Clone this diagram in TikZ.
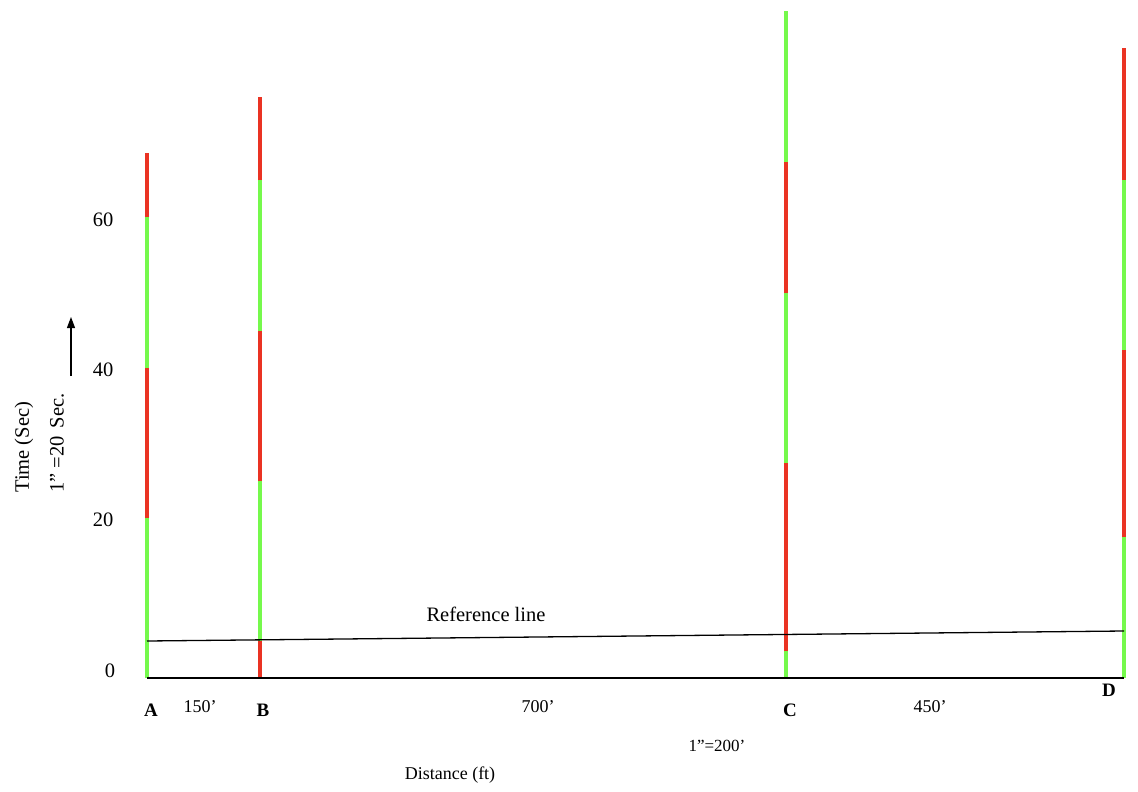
\documentclass[tikz,border=0pt]{standalone}
\usepackage{fontspec}
\setmainfont{Liberation Serif}
\usetikzlibrary{
    arrows.meta,
    %positioning,
}
\definecolor{sigred}{RGB}{234,51,35}
\definecolor{siggreen}{RGB}{117,249,76}

\begin{document}
\begin{tikzpicture}[
        x=1pt, y=-1pt,
        redphase/.style={draw=sigred, line width=4pt},
        greenphase/.style={draw=siggreen, line width=4pt},
        axisline/.style={draw=black, line width=1.3pt},
        lbl/.style={font=\fontsize{18}{21}\selectfont, inner sep=0pt},
        biglbl/.style={font=\fontsize{20.5}{24}\selectfont, inner sep=0pt},
        stop/.style={lbl, font=\fontsize{19}{22}\selectfont\bfseries},
        ]
        \useasboundingbox (0,0) rectangle (1138,792);
        % signal A
        \draw[greenphase] (147,678) -- (147,518);
        \draw[redphase]   (147,518) -- (147,368);
        \draw[greenphase] (147,368) -- (147,217);
        \draw[redphase]   (147,217) -- (147,153);
        % signal B
        \draw[redphase]   (260,678) -- (260,641);
        \draw[greenphase] (260,641) -- (260,481);
        \draw[redphase]   (260,481) -- (260,331);
        \draw[greenphase] (260,331) -- (260,180);
        \draw[redphase]   (260,180) -- (260,97);
        % signal C
        \draw[greenphase] (786,678) -- (786,651);
        \draw[redphase]   (786,651) -- (786,463);
        \draw[greenphase] (786,463) -- (786,293);
        \draw[redphase]   (786,293) -- (786,162);
        \draw[greenphase] (786,162) -- (786,11);
        % signal D
        \draw[greenphase] (1124,678) -- (1124,537);
        \draw[redphase]   (1124,537) -- (1124,350);
        \draw[greenphase] (1124,350) -- (1124,180);
        \draw[redphase]   (1124,180) -- (1124,48);

        \coordinate (RA) at (147,641);
        \coordinate (RD) at (1124,631);
        \coordinate (BA) at (147,678);
        \coordinate (BD) at (1124,678);
        \draw[axisline] (BA) -- (BD);
        \draw[axisline] (RA) -- (RD);
        \node[biglbl] (REF) at (486,614) {Reference line};

        % time axis
        \node[biglbl] (T60) at (103,220) {60};
        \node[biglbl] (T40) at (103,370) {40};
        \node[biglbl] (T20) at (103,520) {20};
        \node[biglbl] (T0)  at (110,671) {0};
        \node[biglbl, rotate=90, anchor=west] (TIME) at (24,493) {Time (Sec)};
        \node[biglbl, rotate=90, anchor=west] (TSCALE) at (57,493) {1” =20\hspace{8pt}Sec.};
        \coordinate (UP0) at (71,376);
        \coordinate (UP1) at (71,317);
        \draw[-{Triangle[length=11pt, width=8pt]}, line width=1.1pt] (UP0) -- (UP1);

        % distance axis
        \node[stop] (A) at (151,710) {A};
        \node[lbl]  (AB) at (200,707) {150’};
        \node[stop] (B) at (263,710) {B};
        \node[lbl]  (BC) at (538,707) {700’};
        \node[stop] (C) at (790,710) {C};
        \node[lbl]  (CD) at (930,707) {450’};
        \node[stop] (D) at (1109,690) {D};
        \node[lbl, font=\fontsize{17}{20}\selectfont] (XSCALE) at (717,746) {1”=200’};
        \node[lbl] (DIST) at (450,775) {Distance (ft)};

    \end{tikzpicture}
\end{document}
